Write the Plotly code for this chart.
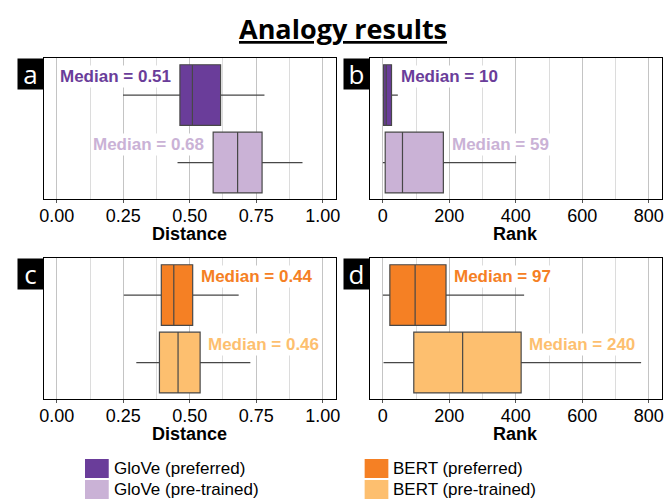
import plotly.graph_objects as go

W, H = 670, 500

# ---------------- data ----------------
glove_names = ["GloVe (preferred)", "GloVe (pre-trained)"]
bert_names = ["BERT (preferred)", "BERT (pre-trained)"]
glove_colors = ["#6a3d9a", "#cab2d6"]
bert_colors = ["#f58024", "#fdbf6f"]

# Distance (panel a: GloVe, panel c: BERT)
glove_dist_lower = [0.249, 0.454]
glove_dist_q1 = [0.463, 0.588]
glove_dist_median = [0.51, 0.68]
glove_dist_q3 = [0.616, 0.772]
glove_dist_upper = [0.781, 0.924]

bert_dist_lower = [0.252, 0.299]
bert_dist_q1 = [0.393, 0.386]
bert_dist_median = [0.44, 0.456]
bert_dist_q3 = [0.511, 0.539]
bert_dist_upper = [0.684, 0.728]

# Rank (panel b: GloVe, panel d: BERT)
glove_rank_lower = [0, 0]
glove_rank_q1 = [2, 7]
glove_rank_median = [10, 59]
glove_rank_q3 = [26, 182]
glove_rank_upper = [45, 401]

bert_rank_lower = [0, 2]
bert_rank_q1 = [21, 93]
bert_rank_median = [97, 240]
bert_rank_q3 = [190, 416]
bert_rank_upper = [425, 777]

dist_ticks = [0, 0.25, 0.5, 0.75, 1.0]
rank_ticks = [0, 200, 400, 600, 800]

# ---------------- layout helpers ----------------
def px_x(x):
    return x / W

def px_y(y):
    return 1 - y / H

panels = [
    ("a", glove_names, glove_colors, glove_dist_lower, glove_dist_q1, glove_dist_median,
     glove_dist_q3, glove_dist_upper, "Distance", "left", (40, 58, 336, 199)),
    ("b", glove_names, glove_colors, glove_rank_lower, glove_rank_q1, glove_rank_median,
     glove_rank_q3, glove_rank_upper, "Rank", "right", (370, 58, 666, 199)),
    ("c", bert_names, bert_colors, bert_dist_lower, bert_dist_q1, bert_dist_median,
     bert_dist_q3, bert_dist_upper, "Distance", "right", (40, 258, 336, 399)),
    ("d", bert_names, bert_colors, bert_rank_lower, bert_rank_q1, bert_rank_median,
     bert_rank_q3, bert_rank_upper, "Rank", "right", (370, 258, 666, 399)),
]

fig = go.Figure()
annotations = []
shapes = []
layout = {}

positions = [1, 0]  # preferred on top, pre-trained below
label_font = "Liberation Sans, Arial, sans-serif"

for i, (letter, names, cols, lo, q1, med, q3, up, metric, side, box) in enumerate(panels):
    n = "" if i == 0 else str(i + 1)
    xa, ya = "x" + n, "y" + n
    l, t, r, b = box
    if metric == "Distance":
        rng = [-0.05, 1.05]
        ticks = dist_ticks
        ttext = [f"{v:.2f}" for v in ticks]
        minor_dt = 0.125
    else:
        rng = [-40, 840]
        ticks = rank_ticks
        ttext = [str(v) for v in ticks]
        minor_dt = 100
    span = rng[1] - rng[0]

    for j in range(2):
        fig.add_trace(go.Box(
            name=names[j], y=[positions[j]], q1=[q1[j]], median=[med[j]], q3=[q3[j]],
            lowerfence=[lo[j]], upperfence=[up[j]], orientation="h",
            fillcolor=cols[j], line=dict(color="#474747", width=1.2),
            width=0.9, whiskerwidth=0, boxpoints=False, showlegend=False,
            xaxis=xa, yaxis=ya,
        ))
        mtxt = f"{med[j]:.2f}" if metric == "Distance" else f"{med[j]:d}"
        if side == "left":
            ax_x = q1[j] - 0.023 * span
            anchor = "right"
        else:
            if up[j] - q3[j] < 0.04 * span:
                ax_x = up[j] + 0.004 * span
            else:
                ax_x = q3[j] + 0.021 * span
            anchor = "left"
        annotations.append(dict(
            x=ax_x, y=positions[j] + 0.27, xref=xa, yref=ya,
            text=f"<b>Median = {mtxt}</b>", showarrow=False, xanchor=anchor, yanchor="middle",
            font=dict(family=label_font, size=17, color=cols[j]),
            bgcolor="white", borderpad=1,
        ))

    layout["xaxis" + n] = dict(
        domain=[px_x(l), px_x(r)], anchor=ya, range=rng,
        tickmode="array", tickvals=ticks, ticktext=ttext,
        ticks="outside", ticklen=3, tickcolor="#555555", tickwidth=1,
        ticklabelstandoff=-3,
        tickfont=dict(family=label_font, size=18, color="black"),
        showgrid=True, gridcolor="#c4c4c4", gridwidth=1,
        minor=dict(dtick=minor_dt, tick0=0, showgrid=True, gridcolor="#dcdcdc", gridwidth=1),
        zeroline=False, showline=True, mirror=True, linecolor="black", linewidth=1.2,
    )
    layout["yaxis" + n] = dict(
        domain=[px_y(b), px_y(t)], anchor=xa, range=[-0.54, 1.55],
        showticklabels=False, ticks="", showgrid=False, zeroline=False,
        showline=True, mirror=True, linecolor="black", linewidth=1.2,
    )
    # axis title
    annotations.append(dict(
        x=(px_x(l) + px_x(r)) / 2, y=px_y(b + 35), xref="paper", yref="paper",
        xanchor="center", yanchor="middle", text=f"<b>{metric}</b>", showarrow=False,
        font=dict(family=label_font, size=18, color="black"),
    ))
    # panel letter tag
    annotations.append(dict(
        x=px_x(l), y=px_y(t), xref="paper", yref="paper", xanchor="right", yanchor="top",
        text=letter, showarrow=False, bgcolor="black", width=25, height=30, borderpad=0,
        font=dict(family="Open Sans, sans-serif", size=26, color="white"),
    ))

# title
annotations.append(dict(
    x=px_x(343), y=px_y(28), xref="paper", yref="paper", xanchor="center", yanchor="middle",
    text="<b><u>Analogy results</u></b>", showarrow=False,
    font=dict(family="Open Sans, sans-serif", size=27, color="black"),
))

# manual legend
legend_items = [
    (glove_names[0], glove_colors[0], 82, 459),
    (glove_names[1], glove_colors[1], 82, 480),
    (bert_names[0], bert_colors[0], 365, 459),
    (bert_names[1], bert_colors[1], 365, 480),
]
for name, col, lx, ly in legend_items:
    shapes.append(dict(type="rect", xref="paper", yref="paper",
                       x0=px_x(lx), x1=px_x(lx + 24), y0=px_y(ly + 19), y1=px_y(ly),
                       fillcolor=col, line=dict(width=0)))
    annotations.append(dict(
        x=px_x(lx + 27), y=px_y(ly + 9.5), xref="paper", yref="paper",
        xanchor="left", yanchor="middle", text=name, showarrow=False,
        font=dict(family=label_font, size=17, color="black"),
    ))

fig.update_layout(
    width=W, height=H, margin=dict(l=0, r=0, t=0, b=0),
    paper_bgcolor="white", plot_bgcolor="white",
    boxmode="overlay", showlegend=False,
    annotations=annotations, shapes=shapes, **layout,
)

fig.write_html("out.html")
